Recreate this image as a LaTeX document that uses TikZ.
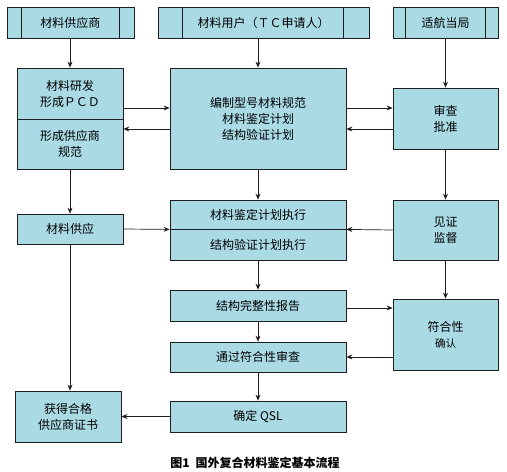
\documentclass[tikz,border=0pt]{standalone}
\usepackage{fontspec}
\setmainfont{Noto Sans CJK SC}
\usetikzlibrary{arrows.meta}
\definecolor{boxblue}{RGB}{170, 218, 228}
\definecolor{inkgray}{RGB}{30, 30, 30}

\begin{document}
\begin{tikzpicture}[x=1pt, y=-1pt,
    flowbox/.style={draw=inkgray, fill=boxblue, line width=0.8pt, inner sep=0pt,
                    align=center, font=\fontsize{12}{16}\selectfont},
    flowarrow/.style={draw=inkgray, line width=0.7pt, -{Stealth[length=6pt, width=5pt]}}]
            \useasboundingbox (0,0) rectangle (507,472);
            % Header row
            \node[flowbox, minimum width=127, minimum height=31] (supplier)  at ( 70.5, 22.5) {材料供应商};
            \node[flowbox, minimum width=211, minimum height=31] (user)      at (263.5, 22.5) {材料用户（ＴＣ申请人）};
            \node[flowbox, minimum width=105, minimum height=31] (authority) at (445.5, 22.5) {适航当局};
            \draw[inkgray, line width=0.8pt] (supplier.north west)  ++( 15,0) -- ++(0,31);
            \draw[inkgray, line width=0.8pt] (supplier.north east)  ++(-15,0) -- ++(0,31);
            \draw[inkgray, line width=0.8pt] (user.north west)      ++( 25,0) -- ++(0,31);
            \draw[inkgray, line width=0.8pt] (user.north east)      ++(-26,0) -- ++(0,31);
            \draw[inkgray, line width=0.8pt] (authority.north west) ++( 13,0) -- ++(0,31);
            \draw[inkgray, line width=0.8pt] (authority.north east) ++(-13,0) -- ++(0,31);
            % Planning
            \node[flowbox, minimum width=106, minimum height=51]  (pcd)     at ( 70.0,  93.5) {材料研发\\形成ＰＣＤ};
            \node[flowbox, minimum width=106, minimum height=50]  (supspec) at ( 70.0, 144.0) {形成供应商\\规范};
            \node[flowbox, minimum width=176, minimum height=101] (matspec) at (258.0, 118.5) {编制型号材料规范\\材料鉴定计划\\结构验证计划};
            \node[flowbox, minimum width=105, minimum height=61]  (review)  at (445.5, 118.5) {审查\\批准};
            % Execution
            \node[flowbox, minimum width=106, minimum height=30]  (supply)  at ( 70.0, 229.0) {材料供应};
            \node[flowbox, minimum width=176, minimum height=29]  (exec1)   at (258.0, 214.5) {材料鉴定计划执行};
            \node[flowbox, minimum width=176, minimum height=31]  (exec2)   at (258.0, 244.5) {结构验证计划执行};
            \node[flowbox, minimum width=105, minimum height=60]  (witness) at (445.5, 230.0) {见证\\监督};
            % Compliance
            \node[flowbox, minimum width=176, minimum height=31]  (report)  at (258.0, 305.5) {结构完整性报告};
            \node[flowbox, minimum width=176, minimum height=30]  (check)   at (258.0, 357.0) {通过符合性审查};
            \node[flowbox, minimum width=105, minimum height=71]  (confirm) at (445.5, 334.5) {符合性\\{\fontsize{10.5}{14}\selectfont 确认}};
            \node[flowbox, minimum width=176, minimum height=31]  (qsl)     at (258.0, 416.5) {确定 QSL};
            \node[flowbox, minimum width=106, minimum height=51]  (cert)    at ( 68.0, 416.5) {获得合格\\供应商证书};
            % Caption
            \node[font=\fontsize{12}{14}\selectfont\bfseries] (caption) at (255, 463) {图1\enspace 国外复合材料鉴定基本流程};
            % Arrow levels
            \coordinate (upper) at (0,108);
            \coordinate (lower) at (0,129);
            \coordinate (toconf) at (0,308);
            % Vertical flow
            \draw[flowarrow] (supplier.south -| pcd.north) -- (pcd.north);
            \draw[flowarrow] (user.south -| matspec.north) -- (matspec.north);
            \draw[flowarrow] (authority.south -| review.north) -- (review.north);
            \draw[flowarrow] (supspec.south) -- (supply.north);
            \draw[flowarrow] (matspec.south) -- (exec1.north);
            \draw[flowarrow] (review.south) -- (witness.north);
            \draw[flowarrow] (exec2.south) -- (report.north);
            \draw[flowarrow] (witness.south) -- (confirm.north);
            \draw[flowarrow] (report.south) -- (check.north);
            \draw[flowarrow] (check.south) -- (qsl.north);
            \draw[flowarrow] (supply.south) -- (supply.south |- cert.north);
            % Horizontal flow
            \draw[flowarrow] (pcd.east |- upper) -- (matspec.west |- upper);
            \draw[flowarrow] (matspec.west |- lower) -- (supspec.east |- lower);
            \draw[flowarrow] (matspec.east |- upper) -- (review.west |- upper);
            \draw[flowarrow] (review.west |- lower) -- (matspec.east |- lower);
            \draw[flowarrow] (supply.east) -- (exec1.south west);
            \draw[flowarrow] (witness.west) -- (exec1.south east);
            \draw[flowarrow] (report.east |- toconf) -- (confirm.west |- toconf);
            \draw[flowarrow] (confirm.west |- check.east) -- (check.east);
            \draw[flowarrow] (qsl.west) -- (cert.east);
        \end{tikzpicture}
\end{document}
